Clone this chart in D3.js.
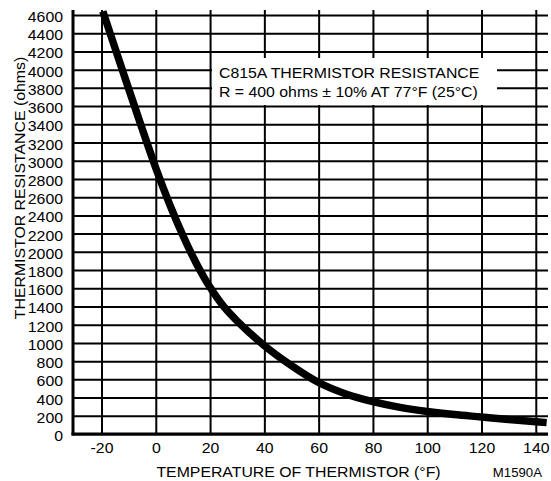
<!DOCTYPE html>
<html>
<head>
<meta charset="utf-8">
<script src="https://cdn.jsdelivr.net/npm/d3@7/dist/d3.min.js"></script>
<style>
  html, body { margin: 0; padding: 0; background: #fff; }
  svg { display: block; }
  text { font-family: "Liberation Sans", Arial, Helvetica, sans-serif; fill: #000; }
</style>
</head>
<body>
<svg id="chart" width="551" height="481"></svg>
<script>
// ---- data ----
const temperatures = [-19.5, -10, 0, 5, 10, 15, 20, 25, 30, 40, 50, 60, 70, 80, 90, 100, 110, 120, 130, 140, 144];
const resistances  = [4640, 3790, 2920, 2530, 2180, 1870, 1610, 1400, 1240, 970, 750, 565, 440, 355, 292, 247, 213, 187, 160, 135, 125];
const xTickValues = [-20, 0, 20, 40, 60, 80, 100, 120, 140];
const yTickValues = [0, 200, 400, 600, 800, 1000, 1200, 1400, 1600, 1800, 2000, 2200, 2400, 2600, 2800, 3000, 3200, 3400, 3600, 3800, 4000, 4200, 4400, 4600];
const legendLines = ["C815A THERMISTOR RESISTANCE", "R = 400 ohms \u00B1 10% AT 77\u00B0F (25\u00B0C)"];
const xTitle = "TEMPERATURE OF THERMISTOR (\u00B0F)";
const yTitle = "THERMISTOR RESISTANCE (ohms)";
const figureCode = "M1590A";

(function () {
// ---- layout ----
const W = 551, H = 481;
const pL = 73, pR = 548, pT = 10, pB = 434;
const SX = 1.1; // horizontal stretch of the reference lettering
const FS = 14.4;

const svg = d3.select("#chart");
svg.append("rect").attr("width", W).attr("height", H).attr("fill", "#fff");

const x = d3.scaleLinear().domain([-30.5, 144.5]).range([pL, pR]);
const y = d3.scaleLinear().domain([0, 4600]).range([pB, 15]);

// Y axis with horizontal grid
const gy = svg.append("g").attr("transform", `translate(${pL},0)`)
  .call(d3.axisLeft(y).tickValues(yTickValues).tickSize(-(pR - pL)).tickPadding(10).tickFormat(d => String(d)));
gy.select(".domain").remove();
gy.selectAll(".tick line").attr("stroke", "#000").attr("stroke-width", 2);
gy.selectAll(".tick text")
  .attr("font-family", "Liberation Sans, Arial, sans-serif")
  .attr("font-size", FS)
  .attr("x", -10 / SX)
  .attr("dy", "0.45em")
  .attr("transform", `scale(${SX},1)`);

// X axis with vertical grid
const gx = svg.append("g").attr("transform", `translate(0,${pB})`)
  .call(d3.axisBottom(x).tickValues(xTickValues).tickSize(-(pB - pT)).tickPadding(9).tickFormat(d => String(d)));
gx.select(".domain").remove();
gx.selectAll(".tick line").attr("stroke", "#000").attr("stroke-width", 2);
gx.selectAll(".tick text")
  .attr("font-family", "Liberation Sans, Arial, sans-serif")
  .attr("font-size", FS)
  .attr("transform", `scale(${SX},1)`);

// Legend box (covers grid)
const lg = svg.append("g");
lg.append("rect").attr("x", 212).attr("y", 58).attr("width", 285).attr("height", 47).attr("fill", "#fff");
legendLines.forEach((t, i) => {
  lg.append("text")
    .attr("transform", `translate(219,${78 + i * 18.7}) scale(${SX},1)`)
    .attr("font-size", FS)
    .text(t);
});

// Axis lines
svg.append("line").attr("x1", pL).attr("x2", pL).attr("y1", pT).attr("y2", pB + 1.5)
  .attr("stroke", "#000").attr("stroke-width", 3);
svg.append("line").attr("x1", pL - 1.5).attr("x2", pR).attr("y1", pB).attr("y2", pB)
  .attr("stroke", "#000").attr("stroke-width", 3);

// Curve
const pts = temperatures.map((t, i) => [t, resistances[i]]);
svg.append("path")
  .datum(pts)
  .attr("fill", "none")
  .attr("stroke", "#000")
  .attr("stroke-width", 7.5)
  .attr("stroke-linecap", "butt")
  .attr("stroke-linejoin", "round")
  .attr("d", d3.line().x(d => x(d[0])).y(d => y(d[1])).curve(d3.curveCatmullRom.alpha(0.5)));

// Titles
svg.append("text")
  .attr("transform", `translate(298.5,477) scale(${SX},1)`)
  .attr("text-anchor", "middle")
  .attr("font-size", FS)
  .text(xTitle);

svg.append("text")
  .attr("transform", `translate(542,477) scale(${SX},1)`)
  .attr("text-anchor", "end")
  .attr("font-size", 12)
  .text(figureCode);

svg.append("text")
  .attr("transform", `translate(25,188) rotate(-90) scale(${SX},1)`)
  .attr("text-anchor", "middle")
  .attr("font-size", FS)
  .text(yTitle);
})();
</script>
</body>
</html>
